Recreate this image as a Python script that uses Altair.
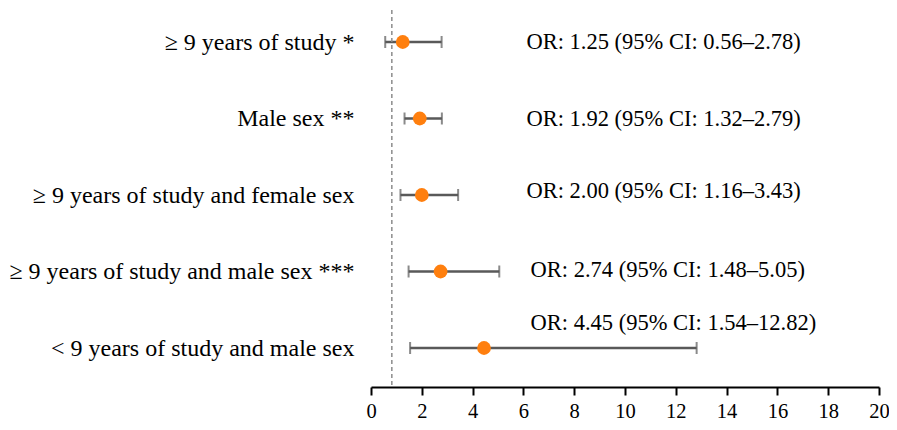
import altair as alt
import pandas as pd

labels = [
    "≥ 9 years of study *",
    "Male sex **",
    "≥ 9 years of study and female sex",
    "≥ 9 years of study and male sex ***",
    "< 9 years of study and male sex",
]
odds = [1.25, 1.92, 2.00, 2.74, 4.45]
ci_low = [0.56, 1.32, 1.16, 1.48, 1.54]
ci_high = [2.78, 2.79, 3.43, 5.05, 12.82]
ref_value = 0.82
x_ticks = list(range(0, 21, 2))

df = pd.DataFrame({"label": labels, "or": odds, "lo": ci_low, "hi": ci_high})
df["txt"] = [f"OR: {o:.2f} (95% CI: {l:.2f}–{h:.2f})" for o, l, h in zip(odds, ci_low, ci_high)]
df["row"] = range(len(labels))

FONT = "Liberation Serif"

xscale = alt.Scale(domain=[0, 20], nice=False, zero=True)
yscale = alt.Scale(type="point", domain=labels, range=[32, 338], padding=0)

xaxis = alt.Axis(values=x_ticks, grid=False, domainColor="black", domainWidth=2,
                 tickColor="black", tickWidth=2, tickSize=8, labelFont=FONT,
                 labelFontSize=20.5, labelColor="black", labelPadding=6,
                 labelFlush=False)
yaxis = alt.Axis(domain=False, ticks=False, labelFont=FONT, labelFontSize=24,
                 labelColor="black", labelPadding=17, labelLimit=0)

Y = alt.Y("label:N", scale=yscale, sort=labels, title=None, axis=yaxis)

base = alt.Chart(df)

ref = alt.Chart(pd.DataFrame({"v": [ref_value]})).mark_rule(
    color="#8c8c8c", strokeDash=[4, 3], strokeWidth=1.5
).encode(x=alt.X("v:Q", scale=xscale, axis=xaxis, title=None))

bars = base.mark_rule(color="#595959", strokeWidth=2.5).encode(
    x=alt.X("lo:Q", scale=xscale, axis=xaxis, title=None), x2="hi:Q", y=Y
)

cap_lo = base.mark_tick(color="#595959", thickness=2, size=12).encode(
    x=alt.X("lo:Q", scale=xscale), y=Y)
cap_hi = base.mark_tick(color="#595959", thickness=2, size=12).encode(
    x=alt.X("hi:Q", scale=xscale), y=Y)

dots = base.mark_circle(color="#ff7f0e", opacity=1, size=190).encode(
    x=alt.X("or:Q", scale=xscale), y=Y)

def txt(rows, x, dy):
    return base.transform_filter(
        alt.FieldOneOfPredicate(field="row", oneOf=rows)
    ).transform_calculate(tx=str(x)).mark_text(
        align="left", baseline="middle", font=FONT, fontSize=22.5, color="black", dy=dy
    ).encode(
        x=alt.X("tx:Q", scale=xscale),
        y=Y,
        text="txt:N",
    )

texts = [txt([0, 1], 6.12, 0), txt([2], 6.12, -4), txt([3], 6.28, -2), txt([4], 6.28, -25)]

chart = alt.layer(bars, ref, cap_lo, cap_hi, dots, *texts).properties(
    width=508, height=377,
    autosize=alt.AutoSizeParams(type="none"),
    padding={"left": 363, "top": 2, "right": 10, "bottom": 35},
).configure_view(stroke=None)

chart.save("out.html", embed_options={"renderer": "svg", "actions": False})
